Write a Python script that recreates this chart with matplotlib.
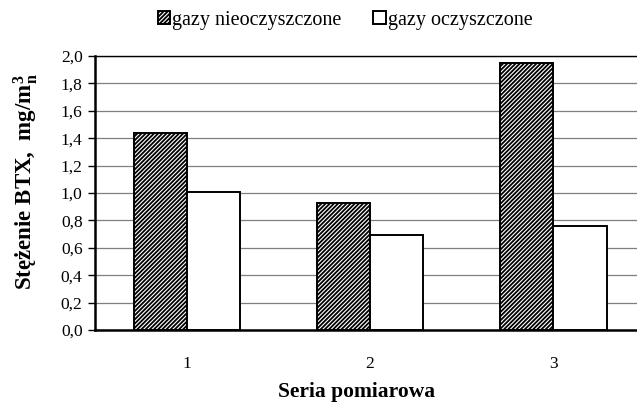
import matplotlib
matplotlib.use("Agg")
import matplotlib.pyplot as plt
import numpy as np

series = ["1", "2", "3"]
nieoczyszczone = [1.44, 0.93, 1.95]
oczyszczone = [1.01, 0.69, 0.76]
yticks = [0.0, 0.2, 0.4, 0.6, 0.8, 1.0, 1.2, 1.4, 1.6, 1.8, 2.0]

plt.rcParams['font.family'] = ['Liberation Serif', 'DejaVu Serif']
plt.rcParams['mathtext.fontset'] = 'custom'
plt.rcParams['mathtext.rm'] = 'Liberation Serif'
plt.rcParams['mathtext.it'] = 'Liberation Serif:italic'
plt.rcParams['mathtext.bf'] = 'Liberation Serif:bold'
plt.rcParams['hatch.linewidth'] = 1.3

fig = plt.figure(figsize=(6.37, 4.05), dpi=100)
ax = fig.add_axes([95 / 637, 1 - 330 / 405, 550 / 637, 274 / 405])

x = np.arange(1, len(series) + 1)
w = 0.29
ax.bar(x - w / 2, nieoczyszczone, w, facecolor='white', edgecolor='black',
       hatch='////////', linewidth=1.4, label='gazy nieoczyszczone', zorder=3)
ax.bar(x + w / 2, oczyszczone, w, facecolor='white', edgecolor='black',
       linewidth=1.4, label='gazy oczyszczone', zorder=3)

ax.set_xlim(0.5, 3.5)
ax.set_ylim(0, 2.0)
ax.set_yticks(yticks)
ax.set_yticklabels([("%.1f" % v).replace('.', ',') for v in yticks])
ax.set_xticks(x)
ax.set_xticklabels(series)
ax.yaxis.grid(True, color='#7f7f7f', linewidth=0.9, zorder=0)
ax.tick_params(axis='x', length=0, pad=19, labelsize=12.5)
ax.tick_params(axis='y', length=5, width=1, direction='out', labelsize=12.5, pad=4)

ax.spines['right'].set_visible(False)
ax.spines['top'].set_linewidth(1.0)
ax.spines['left'].set_linewidth(1.8)
ax.spines['bottom'].set_linewidth(1.8)

ax.set_xlabel('Seria pomiarowa', fontsize=15.5, fontweight='bold')
ax.xaxis.set_label_coords((357 - 95) / 550, (330 - 382) / 274)
ax.set_ylabel(r'Stężenie BTX,  $\mathbf{mg/m}^{\mathbf{3}}_{\mathbf{n}}$',
              fontsize=16.5, fontweight='bold')
ax.yaxis.set_label_coords((40 - 95) / 550, (330 - 182) / 274)

leg = fig.legend(loc='center', bbox_to_anchor=(345 / 637, 1 - 20 / 405), ncol=2,
                 frameon=False, fontsize=14.5, handlelength=0.6, handleheight=0.6,
                 handletextpad=0.1, columnspacing=1.6)

fig.savefig('out.png', dpi=100)
